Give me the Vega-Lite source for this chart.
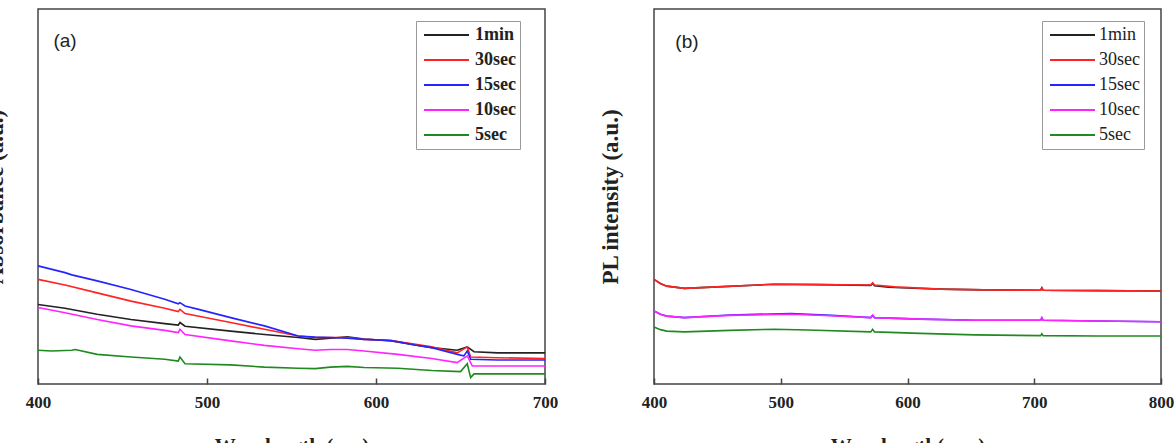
{
  "$schema": "https://vega.github.io/schema/vega-lite/v6.json",
  "background": "white",
  "padding": {"left": -17, "top": 8, "right": 0, "bottom": -12},
  "spacing": 109,
  "bounds": "flush",
  "config": {
    "view": {"stroke": "#444", "strokeWidth": 1.5},
    "axis": {
      "grid": false,
      "labelFont": "Liberation Serif",
      "titleFont": "Liberation Serif",
      "labelFontWeight": "bold",
      "titleFontWeight": "bold",
      "labelColor": "#222",
      "titleColor": "#222",
      "labelFontSize": 17,
      "titleFontSize": 21
    },
    "axisY": {"titleFontSize": 23}
  },
  "resolve": {"scale": {"color": "independent"}, "legend": {"color": "independent"}},
  "datasets": {
    "abs": [
      {"t": "1min", "wl": 400, "v": 0.212}, {"t": "1min", "wl": 416, "v": 0.202}, {"t": "1min", "wl": 435, "v": 0.186},
      {"t": "1min", "wl": 455, "v": 0.172}, {"t": "1min", "wl": 475, "v": 0.161}, {"t": "1min", "wl": 483, "v": 0.157},
      {"t": "1min", "wl": 484, "v": 0.164}, {"t": "1min", "wl": 487, "v": 0.154}, {"t": "1min", "wl": 514, "v": 0.141},
      {"t": "1min", "wl": 534, "v": 0.132}, {"t": "1min", "wl": 554, "v": 0.124}, {"t": "1min", "wl": 564, "v": 0.119},
      {"t": "1min", "wl": 573, "v": 0.122}, {"t": "1min", "wl": 583, "v": 0.126}, {"t": "1min", "wl": 593, "v": 0.12},
      {"t": "1min", "wl": 609, "v": 0.115}, {"t": "1min", "wl": 633, "v": 0.097}, {"t": "1min", "wl": 648, "v": 0.09},
      {"t": "1min", "wl": 654, "v": 0.099}, {"t": "1min", "wl": 658, "v": 0.086}, {"t": "1min", "wl": 672, "v": 0.083},
      {"t": "1min", "wl": 700, "v": 0.083},

      {"t": "30sec", "wl": 400, "v": 0.279}, {"t": "30sec", "wl": 416, "v": 0.264}, {"t": "30sec", "wl": 435, "v": 0.243},
      {"t": "30sec", "wl": 455, "v": 0.221}, {"t": "30sec", "wl": 475, "v": 0.202}, {"t": "30sec", "wl": 483, "v": 0.193},
      {"t": "30sec", "wl": 484, "v": 0.199}, {"t": "30sec", "wl": 487, "v": 0.188}, {"t": "30sec", "wl": 514, "v": 0.164},
      {"t": "30sec", "wl": 534, "v": 0.146}, {"t": "30sec", "wl": 554, "v": 0.128}, {"t": "30sec", "wl": 564, "v": 0.124},
      {"t": "30sec", "wl": 573, "v": 0.124}, {"t": "30sec", "wl": 583, "v": 0.124}, {"t": "30sec", "wl": 593, "v": 0.119},
      {"t": "30sec", "wl": 609, "v": 0.116}, {"t": "30sec", "wl": 633, "v": 0.099}, {"t": "30sec", "wl": 648, "v": 0.083},
      {"t": "30sec", "wl": 654, "v": 0.099}, {"t": "30sec", "wl": 656, "v": 0.072}, {"t": "30sec", "wl": 672, "v": 0.07},
      {"t": "30sec", "wl": 700, "v": 0.068},

      {"t": "15sec", "wl": 400, "v": 0.315}, {"t": "15sec", "wl": 416, "v": 0.297}, {"t": "15sec", "wl": 420, "v": 0.291},
      {"t": "15sec", "wl": 435, "v": 0.275}, {"t": "15sec", "wl": 455, "v": 0.252}, {"t": "15sec", "wl": 475, "v": 0.226},
      {"t": "15sec", "wl": 483, "v": 0.214}, {"t": "15sec", "wl": 484, "v": 0.217}, {"t": "15sec", "wl": 487, "v": 0.208},
      {"t": "15sec", "wl": 495, "v": 0.199}, {"t": "15sec", "wl": 514, "v": 0.177}, {"t": "15sec", "wl": 534, "v": 0.155},
      {"t": "15sec", "wl": 554, "v": 0.128}, {"t": "15sec", "wl": 564, "v": 0.125}, {"t": "15sec", "wl": 573, "v": 0.124},
      {"t": "15sec", "wl": 583, "v": 0.122}, {"t": "15sec", "wl": 593, "v": 0.119}, {"t": "15sec", "wl": 609, "v": 0.116},
      {"t": "15sec", "wl": 623, "v": 0.104}, {"t": "15sec", "wl": 633, "v": 0.097}, {"t": "15sec", "wl": 642, "v": 0.086},
      {"t": "15sec", "wl": 650, "v": 0.077}, {"t": "15sec", "wl": 652, "v": 0.075}, {"t": "15sec", "wl": 654, "v": 0.088},
      {"t": "15sec", "wl": 656, "v": 0.066}, {"t": "15sec", "wl": 672, "v": 0.064}, {"t": "15sec", "wl": 700, "v": 0.064},

      {"t": "10sec", "wl": 400, "v": 0.204}, {"t": "10sec", "wl": 416, "v": 0.19}, {"t": "10sec", "wl": 435, "v": 0.172},
      {"t": "10sec", "wl": 455, "v": 0.155}, {"t": "10sec", "wl": 475, "v": 0.143}, {"t": "10sec", "wl": 483, "v": 0.137},
      {"t": "10sec", "wl": 484, "v": 0.146}, {"t": "10sec", "wl": 487, "v": 0.132}, {"t": "10sec", "wl": 514, "v": 0.115},
      {"t": "10sec", "wl": 534, "v": 0.103}, {"t": "10sec", "wl": 554, "v": 0.094}, {"t": "10sec", "wl": 564, "v": 0.09},
      {"t": "10sec", "wl": 573, "v": 0.092}, {"t": "10sec", "wl": 583, "v": 0.092}, {"t": "10sec", "wl": 593, "v": 0.088},
      {"t": "10sec", "wl": 613, "v": 0.079}, {"t": "10sec", "wl": 633, "v": 0.068}, {"t": "10sec", "wl": 648, "v": 0.057},
      {"t": "10sec", "wl": 654, "v": 0.075}, {"t": "10sec", "wl": 657, "v": 0.048}, {"t": "10sec", "wl": 672, "v": 0.048},
      {"t": "10sec", "wl": 700, "v": 0.048},

      {"t": "5sec", "wl": 400, "v": 0.09}, {"t": "5sec", "wl": 408, "v": 0.088}, {"t": "5sec", "wl": 420, "v": 0.09},
      {"t": "5sec", "wl": 422, "v": 0.092}, {"t": "5sec", "wl": 435, "v": 0.079}, {"t": "5sec", "wl": 455, "v": 0.072},
      {"t": "5sec", "wl": 475, "v": 0.066}, {"t": "5sec", "wl": 483, "v": 0.061}, {"t": "5sec", "wl": 484, "v": 0.072},
      {"t": "5sec", "wl": 487, "v": 0.054}, {"t": "5sec", "wl": 514, "v": 0.051}, {"t": "5sec", "wl": 534, "v": 0.045},
      {"t": "5sec", "wl": 554, "v": 0.042}, {"t": "5sec", "wl": 564, "v": 0.041}, {"t": "5sec", "wl": 573, "v": 0.045},
      {"t": "5sec", "wl": 583, "v": 0.047}, {"t": "5sec", "wl": 593, "v": 0.044}, {"t": "5sec", "wl": 613, "v": 0.042},
      {"t": "5sec", "wl": 633, "v": 0.036}, {"t": "5sec", "wl": 650, "v": 0.033}, {"t": "5sec", "wl": 654, "v": 0.054},
      {"t": "5sec", "wl": 656, "v": 0.017}, {"t": "5sec", "wl": 658, "v": 0.027}, {"t": "5sec", "wl": 672, "v": 0.027},
      {"t": "5sec", "wl": 700, "v": 0.027}
    ],
    "pl": [
      {"t": "1min", "wl": 400, "v": 0.279}, {"t": "1min", "wl": 405, "v": 0.268}, {"t": "1min", "wl": 410, "v": 0.261},
      {"t": "1min", "wl": 424, "v": 0.255}, {"t": "1min", "wl": 450, "v": 0.259}, {"t": "1min", "wl": 495, "v": 0.266},
      {"t": "1min", "wl": 530, "v": 0.265}, {"t": "1min", "wl": 571, "v": 0.263}, {"t": "1min", "wl": 572.5, "v": 0.268},
      {"t": "1min", "wl": 574, "v": 0.262}, {"t": "1min", "wl": 585, "v": 0.258}, {"t": "1min", "wl": 600, "v": 0.256},
      {"t": "1min", "wl": 626, "v": 0.253}, {"t": "1min", "wl": 660, "v": 0.251}, {"t": "1min", "wl": 705, "v": 0.25},
      {"t": "1min", "wl": 706, "v": 0.256}, {"t": "1min", "wl": 707, "v": 0.25}, {"t": "1min", "wl": 750, "v": 0.249},
      {"t": "1min", "wl": 800, "v": 0.248},

      {"t": "30sec", "wl": 400, "v": 0.279}, {"t": "30sec", "wl": 405, "v": 0.268}, {"t": "30sec", "wl": 410, "v": 0.261},
      {"t": "30sec", "wl": 424, "v": 0.255}, {"t": "30sec", "wl": 450, "v": 0.259}, {"t": "30sec", "wl": 495, "v": 0.266},
      {"t": "30sec", "wl": 530, "v": 0.265}, {"t": "30sec", "wl": 571, "v": 0.264}, {"t": "30sec", "wl": 572.5, "v": 0.27},
      {"t": "30sec", "wl": 574, "v": 0.264}, {"t": "30sec", "wl": 590, "v": 0.259}, {"t": "30sec", "wl": 626, "v": 0.253},
      {"t": "30sec", "wl": 660, "v": 0.251}, {"t": "30sec", "wl": 705, "v": 0.25}, {"t": "30sec", "wl": 706, "v": 0.257},
      {"t": "30sec", "wl": 707, "v": 0.25}, {"t": "30sec", "wl": 750, "v": 0.249}, {"t": "30sec", "wl": 800, "v": 0.248},

      {"t": "15sec", "wl": 400, "v": 0.195}, {"t": "15sec", "wl": 405, "v": 0.186}, {"t": "15sec", "wl": 410, "v": 0.181},
      {"t": "15sec", "wl": 424, "v": 0.177}, {"t": "15sec", "wl": 460, "v": 0.184}, {"t": "15sec", "wl": 508, "v": 0.188},
      {"t": "15sec", "wl": 540, "v": 0.183}, {"t": "15sec", "wl": 571, "v": 0.177}, {"t": "15sec", "wl": 572.5, "v": 0.183},
      {"t": "15sec", "wl": 574, "v": 0.177}, {"t": "15sec", "wl": 610, "v": 0.173}, {"t": "15sec", "wl": 653, "v": 0.17},
      {"t": "15sec", "wl": 705, "v": 0.17}, {"t": "15sec", "wl": 706, "v": 0.176}, {"t": "15sec", "wl": 707, "v": 0.17},
      {"t": "15sec", "wl": 750, "v": 0.168}, {"t": "15sec", "wl": 800, "v": 0.166},

      {"t": "10sec", "wl": 400, "v": 0.195}, {"t": "10sec", "wl": 405, "v": 0.186}, {"t": "10sec", "wl": 410, "v": 0.181},
      {"t": "10sec", "wl": 424, "v": 0.177}, {"t": "10sec", "wl": 460, "v": 0.183}, {"t": "10sec", "wl": 508, "v": 0.186},
      {"t": "10sec", "wl": 540, "v": 0.182}, {"t": "10sec", "wl": 571, "v": 0.177}, {"t": "10sec", "wl": 572.5, "v": 0.184},
      {"t": "10sec", "wl": 574, "v": 0.177}, {"t": "10sec", "wl": 610, "v": 0.173}, {"t": "10sec", "wl": 653, "v": 0.17},
      {"t": "10sec", "wl": 705, "v": 0.17}, {"t": "10sec", "wl": 706, "v": 0.177}, {"t": "10sec", "wl": 707, "v": 0.17},
      {"t": "10sec", "wl": 750, "v": 0.168}, {"t": "10sec", "wl": 800, "v": 0.166},

      {"t": "5sec", "wl": 400, "v": 0.152}, {"t": "5sec", "wl": 405, "v": 0.145}, {"t": "5sec", "wl": 410, "v": 0.141},
      {"t": "5sec", "wl": 424, "v": 0.139}, {"t": "5sec", "wl": 460, "v": 0.143}, {"t": "5sec", "wl": 495, "v": 0.146},
      {"t": "5sec", "wl": 521, "v": 0.144}, {"t": "5sec", "wl": 571, "v": 0.139}, {"t": "5sec", "wl": 572.5, "v": 0.146},
      {"t": "5sec", "wl": 574, "v": 0.139}, {"t": "5sec", "wl": 610, "v": 0.135}, {"t": "5sec", "wl": 653, "v": 0.131},
      {"t": "5sec", "wl": 705, "v": 0.129}, {"t": "5sec", "wl": 706, "v": 0.134}, {"t": "5sec", "wl": 707, "v": 0.129},
      {"t": "5sec", "wl": 750, "v": 0.128}, {"t": "5sec", "wl": 800, "v": 0.128}
    ]
  },
  "hconcat": [
    {
      "width": 507,
      "height": 375,
      "layer": [
        {
          "data": {"name": "abs"},
          "mark": {"type": "line", "strokeWidth": 1.6},
          "encoding": {
            "x": {
              "field": "wl", "type": "quantitative",
              "scale": {"domain": [400, 700], "nice": false},
              "axis": {"values": [400, 500, 600, 700], "tickSize": -6, "tickColor": "#444", "tickWidth": 1.5,
                       "domain": false, "labelFlush": false, "labelOverlap": false, "labelPadding": 16,
                       "title": "Wavelength (nm)", "titlePadding": 25}
            },
            "y": {
              "field": "v", "type": "quantitative",
              "scale": {"domain": [0, 1], "nice": false},
              "axis": {"title": "Absorbance (a.u.)", "labels": false, "ticks": false, "domain": false, "titlePadding": 31}
            },
            "color": {
              "field": "t", "type": "nominal",
              "scale": {"domain": ["1min", "30sec", "15sec", "10sec", "5sec"],
                        "range": ["#222222", "#ff2424", "#2424ff", "#ff24ff", "#1f8a1f"]},
              "legend": {"title": null, "orient": "none", "legendX": 378, "legendY": 12,
                         "symbolType": "stroke", "symbolSize": 2025, "symbolStrokeWidth": 2,
                         "clipHeight": 20, "symbolOffset": 3, "labelOffset": 5,
                         "labelFont": "Liberation Serif", "labelFontWeight": "bold", "labelFontSize": 18,
                         "labelColor": "#222", "strokeColor": "#999", "fillColor": "white",
                         "padding": 4, "rowPadding": 5}
            }
          }
        },
        {
          "data": {"values": [{"tag": "(a)", "wl": 416, "v": 0.915}]},
          "mark": {"type": "text", "font": "Liberation Sans", "fontSize": 19, "color": "#222", "align": "center", "baseline": "middle"},
          "encoding": {
            "x": {"field": "wl", "type": "quantitative"},
            "y": {"field": "v", "type": "quantitative"},
            "text": {"field": "tag"}
          }
        }
      ]
    },
    {
      "width": 507,
      "height": 375,
      "layer": [
        {
          "data": {"name": "pl"},
          "mark": {"type": "line", "strokeWidth": 1.6},
          "encoding": {
            "x": {
              "field": "wl", "type": "quantitative",
              "scale": {"domain": [400, 800], "nice": false},
              "axis": {"values": [400, 500, 600, 700, 800], "tickSize": -6, "tickColor": "#444", "tickWidth": 1.5,
                       "domain": false, "labelFlush": false, "labelOverlap": false, "labelPadding": 16,
                       "title": "Wavelength( nm)", "titlePadding": 25}
            },
            "y": {
              "field": "v", "type": "quantitative",
              "scale": {"domain": [0, 1], "nice": false},
              "axis": {"title": "PL intensity (a.u.)", "labels": false, "ticks": false, "domain": false, "titlePadding": 32}
            },
            "color": {
              "field": "t", "type": "nominal",
              "scale": {"domain": ["1min", "30sec", "15sec", "10sec", "5sec"],
                        "range": ["#222222", "#ff2424", "#2424ff", "#ff24ff", "#1f8a1f"]},
              "legend": {"title": null, "orient": "none", "legendX": 388, "legendY": 12,
                         "symbolType": "stroke", "symbolSize": 2025, "symbolStrokeWidth": 2,
                         "clipHeight": 20, "symbolOffset": 3, "labelOffset": 3,
                         "labelFont": "Liberation Serif", "labelFontWeight": "normal", "labelFontSize": 18,
                         "labelColor": "#222", "strokeColor": "#999", "fillColor": "white",
                         "padding": 4, "rowPadding": 5}
            }
          }
        },
        {
          "data": {"values": [{"tag": "(b)", "wl": 426, "v": 0.912}]},
          "mark": {"type": "text", "font": "Liberation Sans", "fontSize": 19, "color": "#222", "align": "center", "baseline": "middle"},
          "encoding": {
            "x": {"field": "wl", "type": "quantitative"},
            "y": {"field": "v", "type": "quantitative"},
            "text": {"field": "tag"}
          }
        }
      ]
    }
  ]
}
